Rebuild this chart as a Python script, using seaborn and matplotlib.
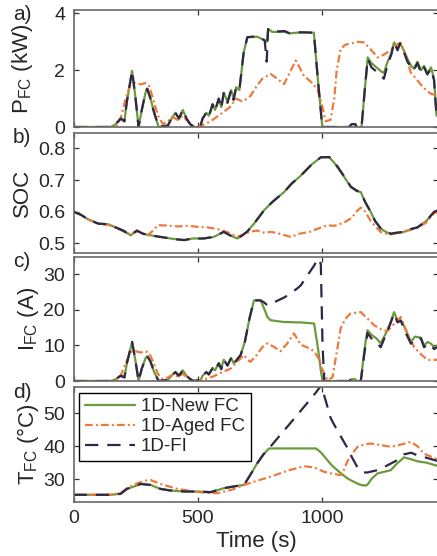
import matplotlib
matplotlib.use("Agg")
import matplotlib.pyplot as plt
from matplotlib.lines import Line2D
import pandas as pd
import seaborn as sns

# ---------------- data ----------------
models = ["1D-New FC", "1D-Aged FC", "1D-FI"]

# a) fuel-cell power (kW)
t_pfc = [0, 150, 170, 190, 205, 215, 236, 250, 262, 275, 290, 297, 310, 325, 343,
         380, 395, 410, 425, 440, 455, 470, 485, 510, 520, 535, 545, 560, 570, 585,
         595, 605, 620, 635, 645, 655, 668, 685, 700, 740, 770, 778, 784, 800, 850,
         870, 900, 940, 968, 985, 1002, 1110, 1120, 1135, 1140, 1160, 1175, 1185, 1200, 1220,
         1240, 1250, 1265, 1280, 1291, 1305, 1315, 1330, 1345, 1360, 1371, 1385, 1400, 1412, 1425,
         1440, 1452, 1462, 1470]
pfc_new = [0, 0, 0.1, 0.3, 0.2, 0.9, 1.98, 1.0, 0.0, 0.6, 1.2, 1.35, 1.0, 0.5, 0.0,
           0.05, 0.3, 0.5, 0.3, 0.6, 0.3, 0.1, 0.0, 0.0, 0.3, 0.5, 0.4, 0.8, 0.6, 1.0,
           0.7, 1.2, 0.9, 1.3, 1.0, 1.4, 1.3, 2.6, 3.16, 3.18, 3.05, 3.0, 3.45, 3.35, 3.35,
           3.3, 3.32, 3.33, 3.32, 1.6, 0.0, 0.0, 0.1, 0.1, 0.0, 0.0, 1.5, 2.45, 2.25, 2.1,
           1.95, 1.9, 2.3, 2.6, 2.98, 2.75, 2.95, 2.7, 2.4, 2.15, 2.05, 2.3, 2.0, 2.15, 1.9,
           2.1, 1.7, 0.4, 0.5]
pfc_fi = [0, 0, 0.1, 0.3, 0.2, 0.9, 1.98, 1.0, 0.0, 0.6, 1.2, 1.35, 1.0, 0.5, 0.0,
          0.05, 0.3, 0.5, 0.3, 0.6, 0.3, 0.1, 0.0, 0.0, 0.3, 0.5, 0.35, 0.8, 0.55, 1.0,
          0.65, 1.2, 0.85, 1.3, 0.95, 1.4, 1.3, 2.6, 3.16, 3.2, 3.05, 2.3, 3.45, 3.35, 3.38,
          3.3, 3.34, 3.33, 3.32, 1.6, 0.0, 0.0, 0.1, 0.1, 0.0, 0.0, 1.5, 2.4, 2.1, 1.95,
          1.8, 1.7, 2.2, 2.55, 2.98, 2.7, 2.95, 2.65, 2.3, 2.1, 2.0, 2.25, 1.9, 2.1, 1.85,
          2.05, 1.65, 0.4, 0.5]
t_pfc_aged = [0, 170, 190, 210, 230, 250, 270, 290, 305, 320, 340, 360, 380, 400, 420,
              440, 460, 480, 500, 530, 560, 600, 630, 655, 680, 700, 713, 735, 760, 794,
              820, 848, 870, 895, 910, 928, 955, 982, 1000, 1016, 1035, 1050, 1060, 1076, 1095,
              1116, 1140, 1170, 1190, 1210, 1224, 1250, 1278, 1300, 1318, 1335, 1358, 1380, 1398, 1420,
              1439, 1470]
pfc_aged = [0, 0, 0.3, 1.0, 1.5, 1.55, 1.5, 1.55, 1.45, 1.0, 0.4, 0.1, 0.2, 0.35, 0.25,
            0.4, 0.2, 0.05, 0.0, 0.1, 0.25, 0.5, 0.7, 1.0, 0.9, 1.0, 1.1, 1.4, 1.7, 1.87,
            1.7, 1.51, 1.9, 2.34, 2.1, 1.8, 1.6, 1.34, 0.8, 0.2, 0.25, 1.0, 2.0, 2.75, 2.9,
            2.93, 3.0, 2.98, 2.8, 2.6, 2.45, 2.55, 2.7, 2.9, 2.95, 2.6, 1.92, 1.7, 1.5, 1.3,
            1.17, 1.1]

# b) battery state of charge
t_soc = [0, 30, 60, 100, 140, 170, 200, 230, 255, 280, 310, 350, 391, 420, 446,
         480, 524, 565, 590, 605, 630, 660, 680, 700, 730, 767, 800, 830, 848, 880,
         910, 929, 960, 996, 1030, 1050, 1063, 1090, 1117, 1140, 1157, 1175, 1197, 1215, 1238,
         1260, 1278, 1300, 1331, 1360, 1385, 1420, 1452, 1470]
soc_new = [0.600, 0.590, 0.575, 0.562, 0.560, 0.550, 0.540, 0.525, 0.540, 0.530,
           0.525, 0.520, 0.515, 0.512, 0.510, 0.515, 0.515, 0.520, 0.530, 0.536,
           0.525, 0.515, 0.525, 0.537, 0.565, 0.604, 0.630, 0.650, 0.662, 0.690,
           0.710, 0.725, 0.750, 0.772, 0.772, 0.755, 0.741, 0.710, 0.678, 0.665,
           0.662, 0.630, 0.599, 0.570, 0.546, 0.535, 0.530, 0.533, 0.536, 0.545,
           0.550, 0.570, 0.599, 0.605]
soc_fi = [0.600, 0.590, 0.575, 0.562, 0.560, 0.550, 0.540, 0.525, 0.540, 0.530,
          0.525, 0.520, 0.515, 0.512, 0.510, 0.515, 0.515, 0.520, 0.530, 0.536,
          0.525, 0.515, 0.525, 0.537, 0.565, 0.604, 0.630, 0.650, 0.662, 0.690,
          0.710, 0.725, 0.750, 0.772, 0.773, 0.757, 0.743, 0.712, 0.679, 0.667,
          0.662, 0.630, 0.599, 0.570, 0.546, 0.535, 0.530, 0.533, 0.536, 0.545,
          0.550, 0.570, 0.599, 0.605]
t_soc_aged = [0, 30, 60, 100, 140, 170, 200, 230, 255, 280, 300, 320, 340, 380, 420,
              460, 500, 540, 580, 620, 660, 690, 713, 740, 770, 795, 830, 875, 910, 955,
              990, 1022, 1050, 1089, 1120, 1140, 1157, 1175, 1197, 1220, 1238, 1260, 1278, 1300, 1331,
              1360, 1385, 1420, 1452, 1470]
soc_aged = [0.600, 0.590, 0.575, 0.562, 0.558, 0.550, 0.538, 0.528, 0.538, 0.530,
            0.525, 0.540, 0.557, 0.556, 0.553, 0.555, 0.552, 0.550, 0.545, 0.535,
            0.520, 0.530, 0.537, 0.540, 0.533, 0.536, 0.530, 0.520, 0.530, 0.537,
            0.548, 0.557, 0.555, 0.565, 0.580, 0.600, 0.613, 0.600, 0.570, 0.550,
            0.535, 0.530, 0.528, 0.532, 0.536, 0.543, 0.550, 0.565, 0.595, 0.600]

# c) fuel-cell current (A)
t_ifc = [0, 150, 170, 190, 205, 215, 236, 250, 262, 275, 290, 297, 310, 325, 343,
         380, 395, 410, 425, 440, 455, 470, 485, 512, 520, 535, 545, 560, 570, 585,
         595, 605, 620, 635, 645, 673, 690, 710, 727, 754, 770, 781, 794, 848, 862,
         900, 915, 969, 985, 996, 1003, 1010, 1110, 1120, 1135, 1140, 1157, 1172, 1184, 1200,
         1220, 1237, 1255, 1275, 1291, 1305, 1318, 1335, 1359, 1375, 1399, 1412, 1426, 1440, 1452,
         1466]
ifc_new = [0, 0, 0.5, 1.5, 1.0, 5.0, 11.0, 5.5, 0.0, 3.5, 6.4, 7.0, 5.5, 2.5, 0.0,
           0.3, 1.5, 2.5, 1.5, 3.0, 1.5, 0.5, 0.0, 0.3, 1.5, 2.5, 2.0, 3.6, 3.0, 5.0,
           3.5, 6.0, 4.5, 6.5, 5.0, 7.3, 11.0, 18.0, 22.7, 22.7, 20.0, 18.0, 17.1, 16.6, 16.6,
           16.5, 16.5, 16.2, 9.0, 3.0, 0.0, 0.0, 0.0, 0.5, 0.5, 0.0, 0.0, 9.0, 14.3, 13.0,
           12.0, 10.6, 13.0, 16.0, 19.4, 17.0, 17.1, 15.0, 11.0, 12.5, 12.2, 10.0, 11.0, 10.5, 9.5,
           10.0]
ifc_fi = [0, 0, 0.5, 1.5, 1.0, 5.0, 11.0, 5.5, 0.0, 3.5, 6.4, 7.0, 5.5, 2.5, 0.0,
          0.3, 1.5, 2.5, 1.5, 3.0, 1.5, 0.5, 0.0, 0.3, 1.5, 2.5, 1.8, 3.6, 2.8, 5.0,
          3.3, 6.0, 4.3, 6.5, 4.8, 7.3, 11.0, 18.0, 22.7, 22.7, 22.0, 21.3, 21.7, 23.5, 24.1,
          26.0, 26.9, 32.5, 34.5, 33.0, 10.0, 0.0, 0.0, 0.5, 0.5, 0.0, 0.0, 8.0, 13.5, 12.0,
          11.0, 9.5, 12.5, 16.0, 19.0, 16.5, 17.0, 14.0, 10.5, 12.0, 12.0, 9.5, 10.5, 10.0, 9.0,
          9.5]
t_ifc_aged = [0, 170, 190, 210, 230, 250, 270, 290, 305, 320, 340, 360, 380, 400, 420,
              440, 460, 480, 500, 530, 560, 600, 633, 660, 687, 700, 713, 740, 760, 781,
              810, 834, 860, 888, 915, 940, 969, 990, 1002, 1022, 1043, 1060, 1076, 1095, 1116,
              1157, 1185, 1211, 1240, 1264, 1290, 1318, 1340, 1372, 1400, 1426, 1466]
ifc_aged = [0, 0, 1.5, 5.0, 8.2, 8.4, 8.0, 8.4, 7.8, 5.5, 2.0, 0.5, 1.0, 1.8, 1.3,
            2.0, 1.0, 0.3, 0.0, 0.5, 1.2, 2.5, 3.5, 5.5, 7.3, 6.0, 5.4, 7.5, 9.5, 10.6,
            9.5, 8.4, 10.5, 13.4, 10.2, 9.5, 8.4, 6.0, 3.3, 0.3, 1.0, 8.0, 14.8, 17.5, 19.0,
            19.4, 17.5, 15.7, 14.5, 14.0, 16.0, 18.0, 14.0, 9.5, 7.5, 5.9, 6.0]

# d) fuel-cell temperature (degC)
t_tfc = [0, 60, 150, 190, 215, 243, 270, 310, 350, 391, 450, 499, 552, 605, 650,
         687, 710, 740, 765, 787, 976, 989, 1000, 1036, 1050, 1076, 1103, 1120, 1144, 1157,
         1177, 1184, 1200, 1224, 1251, 1278, 1300, 1331, 1360, 1385, 1420, 1466]
tfc_new = [25.2, 25.2, 25.2, 25.5, 27.0, 27.7, 28.5, 28.2, 27.0, 26.5, 26.2, 26.2, 26.0, 27.2, 27.8,
           28.2, 31.0, 34.8, 37.5, 39.3, 39.3, 38.6, 37.8, 34.5, 33.5, 31.8, 30.2, 29.5, 28.6, 28.2,
           28.0, 28.3, 30.0, 31.7, 32.2, 32.7, 34.5, 36.6, 36.0, 35.4, 35.0, 34.0]
t_tfc_fi = [0, 60, 150, 190, 215, 243, 270, 310, 350, 391, 450, 499, 552, 605, 650,
            687, 710, 740, 765, 787, 862, 929, 976, 998, 1036, 1050, 1076, 1103, 1120, 1144,
            1165, 1184, 1230, 1260, 1298, 1331, 1360, 1385, 1420, 1466]
tfc_fi = [25.2, 25.2, 25.2, 25.5, 27.0, 27.7, 28.5, 28.2, 27.0, 26.5, 26.2, 26.2, 26.0, 27.2, 27.8,
          28.2, 31.0, 34.8, 37.5, 39.3, 46.0, 52.0, 56.3, 58.5, 48.5, 46.5, 43.0, 39.5, 36.8, 33.5,
          32.0, 32.0, 32.8, 34.0, 35.5, 37.5, 38.0, 37.2, 36.5, 35.5]
t_tfc_aged = [0, 150, 190, 215, 250, 290, 310, 350, 418, 480, 530, 580, 640, 687, 740,
              794, 860, 929, 970, 1009, 1050, 1076, 1090, 1103, 1125, 1144, 1170, 1197, 1240, 1278,
              1320, 1359, 1385, 1412, 1440, 1466]
tfc_aged = [25.2, 25.2, 25.8, 27.2, 28.5, 29.5, 29.7, 28.5, 27.0, 26.3, 25.8, 25.7, 26.8, 28.2, 29.5,
            30.7, 32.5, 33.9, 33.5, 32.2, 31.5, 31.2, 33.0, 35.4, 38.0, 39.8, 40.5, 40.8, 40.3, 39.8,
            40.5, 41.3, 40.0, 37.7, 36.8, 36.0]

x_ticks = [0, 500, 1000]

# ---------------- style ----------------
sns.set_style("ticks", {"xtick.direction": "in", "ytick.direction": "in"})
plt.rcParams["font.family"] = ["Liberation Sans", "DejaVu Sans"]
plt.rcParams["mathtext.fontset"] = "custom"
plt.rcParams["mathtext.rm"] = "Liberation Sans"
plt.rcParams["mathtext.it"] = "Liberation Sans:italic"
plt.rcParams["mathtext.bf"] = "Liberation Sans:bold"

FS_TICK = 14
FS_LABEL = 16
FS_TAG = 15
FS_LEG = 13.5
colors = {"1D-New FC": "#6b9a3e", "1D-Aged FC": "#ec7a3c", "1D-FI": "#302647"}
dash_map = {"1D-New FC": "", "1D-Aged FC": (3.5, 1.4, 0.9, 1.4), "1D-FI": (6, 4)}
LW = 1.6


def frame(pairs):
    rows = []
    for name, tt, vv in pairs:
        assert len(tt) == len(vv), name
        rows += [{"time": a, "value": b, "model": name} for a, b in zip(tt, vv)]
    return pd.DataFrame(rows)


panels = [
    dict(df=frame([(models[0], t_pfc, pfc_new), (models[1], t_pfc_aged, pfc_aged), (models[2], t_pfc, pfc_fi)]),
         ylim=(0, 4.12), yticks=[0, 2, 4], yticklabels=["0", "2", "4"],
         ylabel=r"P$_{\mathregular{FC}}$ (kW)", tag="a)", rect=(10, 127), lx=-0.105),
    dict(df=frame([(models[0], t_soc, soc_new), (models[1], t_soc_aged, soc_aged), (models[2], t_soc, soc_fi)]),
         ylim=(0.47, 0.85), yticks=[0.5, 0.6, 0.7, 0.8], yticklabels=["0.5", "0.6", "0.7", "0.8"],
         ylabel="SOC", tag="b)", rect=(132.7, 252.7), lx=-0.111),
    dict(df=frame([(models[0], t_ifc, ifc_new), (models[1], t_ifc_aged, ifc_aged), (models[2], t_ifc, ifc_fi)]),
         ylim=(0, 35), yticks=[0, 10, 20, 30], yticklabels=["0", "10", "20", "30"],
         ylabel=r"I$_{\mathregular{FC}}$ (A)", tag="c)", rect=(256.7, 381), lx=-0.09),
    dict(df=frame([(models[0], t_tfc, tfc_new), (models[1], t_tfc_aged, tfc_aged), (models[2], t_tfc_fi, tfc_fi)]),
         ylim=(23.1, 58), yticks=[30, 40, 50], yticklabels=["30", "40", "50"],
         ylabel=r"T$_{\mathregular{FC}}$ (°C)", tag="d)", rect=(387, 501.7), lx=-0.09),
]

W, H = 437, 556
fig = plt.figure(figsize=(W / 100, H / 100), dpi=100)
left_px, right_px = 73.5, 438.5

for i, p in enumerate(panels):
    top, bot = p["rect"]
    ax = fig.add_axes([left_px / W, 1 - bot / H, (right_px - left_px) / W, (bot - top) / H])
    sns.lineplot(data=p["df"], x="time", y="value", hue="model", style="model",
                 hue_order=models, style_order=models, palette=colors, dashes=dash_map,
                 estimator=None, sort=False, legend=False, lw=LW, ax=ax)
    ax.set_xlim(0, 1470)
    ax.set_ylim(*p["ylim"])
    ax.set_yticks(p["yticks"])
    ax.set_yticklabels(p["yticklabels"], fontsize=FS_TICK)
    ax.set_xticks(x_ticks)
    if i < 3:
        ax.set_xticklabels([])
        ax.set_xlabel("")
    else:
        ax.set_xticklabels([str(v) for v in x_ticks], fontsize=FS_TICK)
        ax.set_xlabel("Time (s)", fontsize=FS_LABEL, labelpad=3)
    ax.set_ylabel(p["ylabel"], fontsize=FS_LABEL)
    ax.yaxis.set_label_coords(p["lx"], 0.5)
    ax.tick_params(direction="in", top=True, right=True, length=3.5, width=0.9,
                   color="#333333", pad=6)
    for s in ax.spines.values():
        s.set_color("#6a6a6a")
        s.set_linewidth(1.2)
    fig.text(13 / W, 1 - (top + 5) / H, p["tag"], fontsize=FS_TAG, ha="left", va="center")

    if i == 3:
        handles = [Line2D([], [], color=colors[m], lw=LW,
                          dashes=dash_map[m] if dash_map[m] else (None, None)) for m in models]
        handles[0].set_linestyle("-")
        leg = ax.legend(handles, models, loc="upper left", fontsize=FS_LEG, frameon=True,
                        fancybox=False, framealpha=1, edgecolor="black",
                        handlelength=2.7, handletextpad=0.3, labelspacing=0.15,
                        borderpad=0.3, borderaxespad=0.3)
        leg.get_frame().set_linewidth(1.0)

fig.savefig("out.png", dpi=100)
